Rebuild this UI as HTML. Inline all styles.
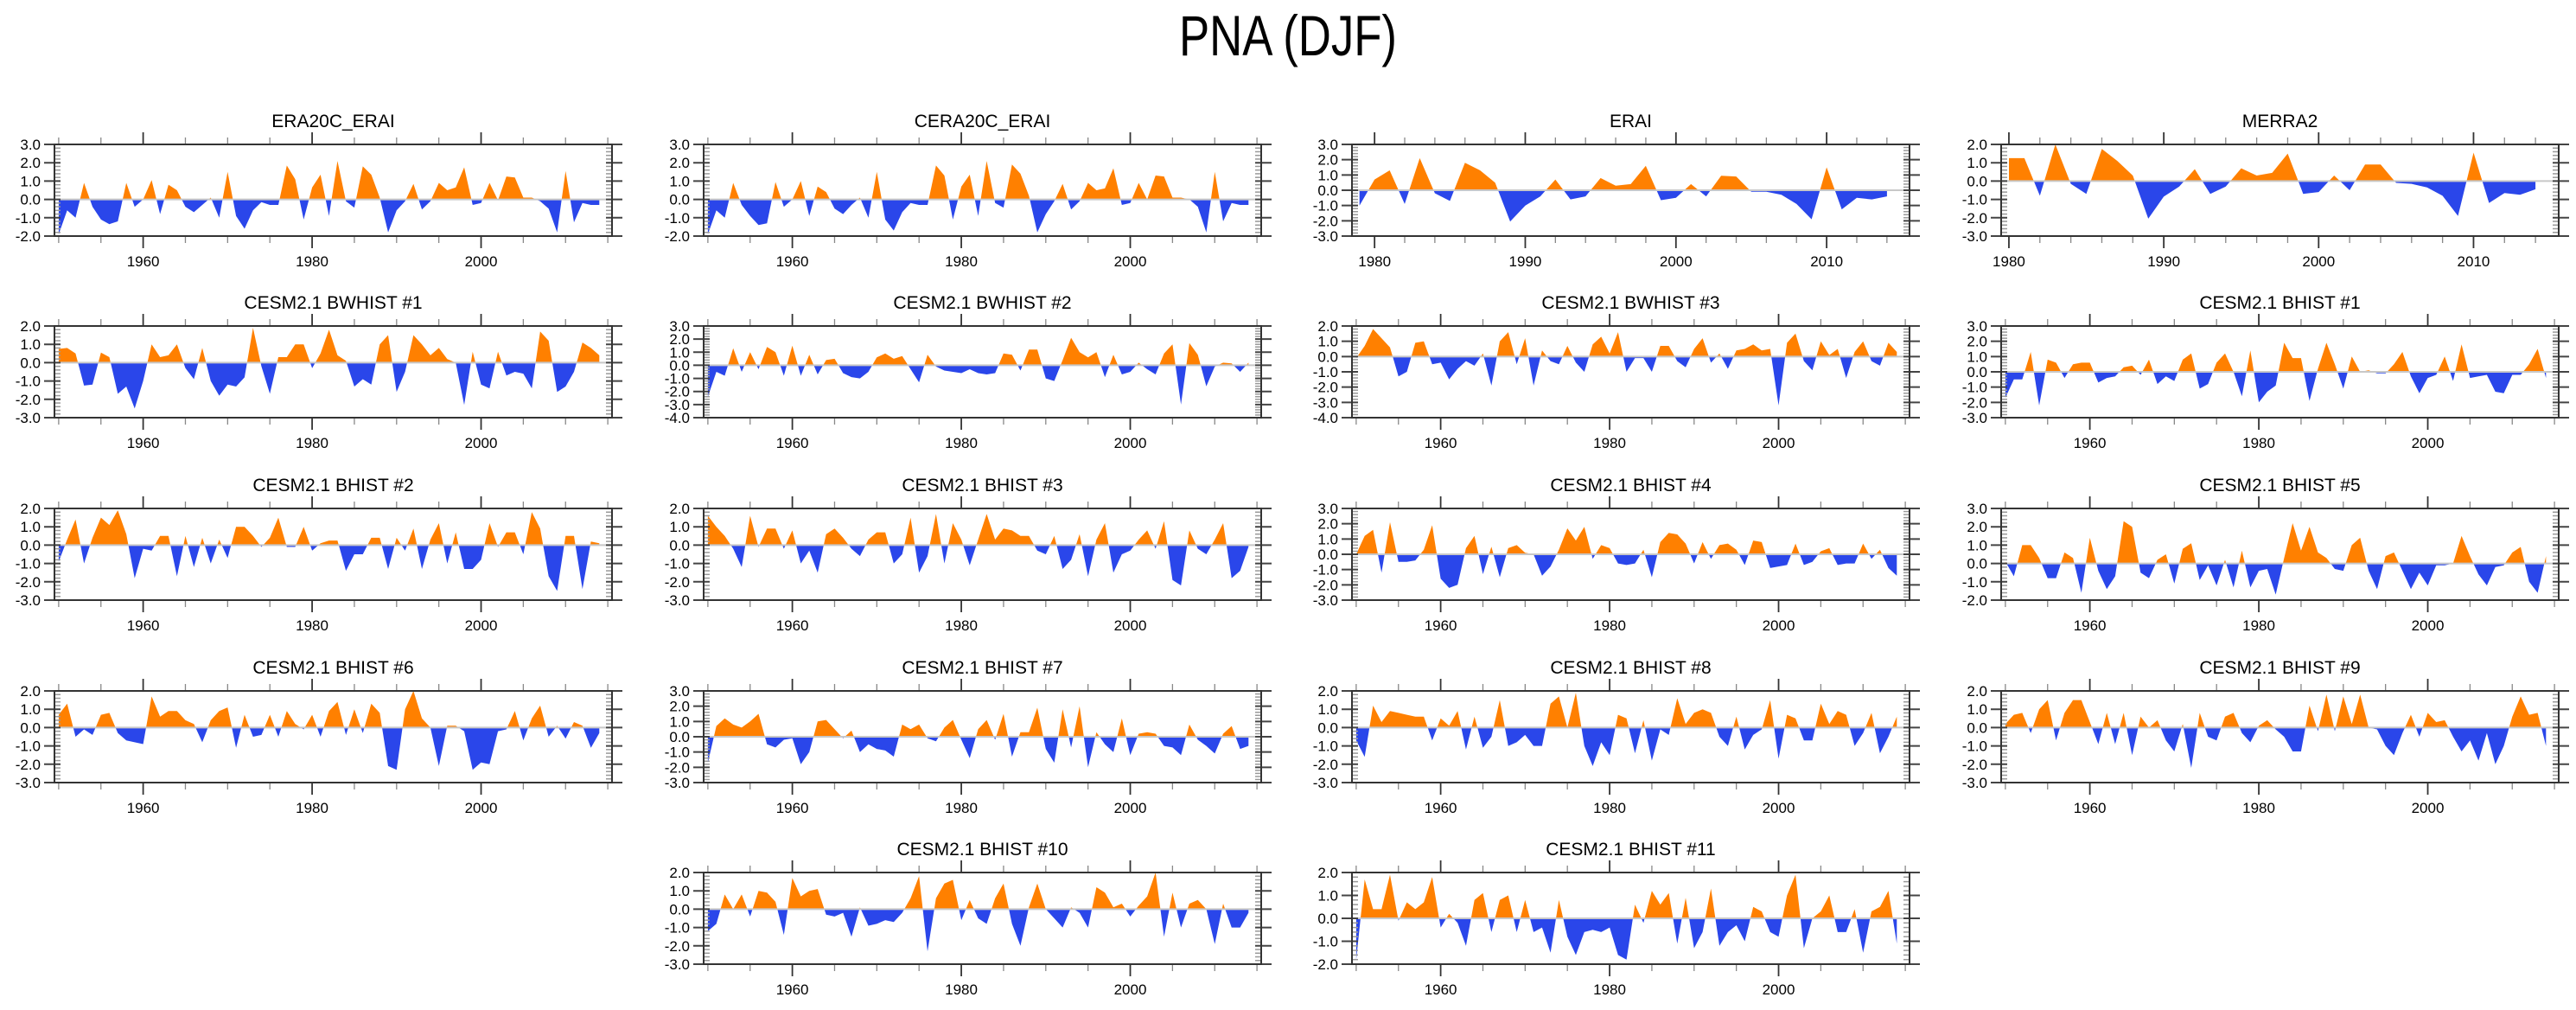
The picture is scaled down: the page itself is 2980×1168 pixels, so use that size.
<!DOCTYPE html>
<html><head><meta charset="utf-8"><style>
html,body{margin:0;padding:0;background:#fff;}
svg text{font-family:"Liberation Sans",Arial,sans-serif;fill:#000;}
</style></head><body>
<svg id="chart" width="2980" height="1163" viewBox="0 0 2980 1163" xmlns="http://www.w3.org/2000/svg">
<rect width="2980" height="1163" fill="#fff"/>
<text x="1490" y="64" font-size="66" text-anchor="middle" textLength="252" lengthAdjust="spacingAndGlyphs">PNA (DJF)</text>
<g id="panels"></g>
</svg>
<script>
const titles = ["ERA20C_ERAI","CERA20C_ERAI","ERAI","MERRA2","CESM2.1 BWHIST #1","CESM2.1 BWHIST #2","CESM2.1 BWHIST #3","CESM2.1 BHIST #1","CESM2.1 BHIST #2","CESM2.1 BHIST #3","CESM2.1 BHIST #4","CESM2.1 BHIST #5","CESM2.1 BHIST #6","CESM2.1 BHIST #7","CESM2.1 BHIST #8","CESM2.1 BHIST #9","CESM2.1 BHIST #10","CESM2.1 BHIST #11"];
const startYears = [1950,1950,1979,1980,1950,1950,1950,1950,1950,1950,1950,1950,1950,1950,1950,1950,1950,1950];
const yMins = [-2,-2,-3,-3,-3,-4,-4,-3,-3,-3,-3,-2,-3,-3,-3,-3,-3,-2];
const yMaxs = [3,3,3,2,2,3,2,3,2,2,3,3,2,3,2,2,2,2];
const xLabelsLong = [1960,1980,2000];
const xLabelsShort = [1980,1990,2000,2010];
const sERA20C = [-1.9,-0.6,-1.0,0.9,-0.4,-1.1,-1.35,-1.2,0.9,-0.4,0.0,1.05,-0.8,0.8,0.5,-0.4,-0.7,-0.3,0.1,-1.0,1.5,-0.9,-1.6,-0.6,-0.15,-0.3,-0.3,1.85,1.1,-1.1,0.65,1.35,-0.9,2.1,-0.1,-0.45,1.8,1.35,0.1,-1.8,-0.6,-0.1,0.85,-0.55,-0.1,0.9,0.5,0.65,1.75,-0.3,-0.2,0.9,-0.05,1.25,1.2,0.1,0.1,-0.1,-0.5,-1.8,1.55,-1.25,-0.2,-0.3,-0.3];
const sCERA20C = [-1.9,-0.6,-1.0,0.9,-0.3,-0.9,-1.4,-1.3,0.95,-0.4,0.0,1.0,-0.9,0.7,0.4,-0.5,-0.8,-0.3,0.1,-1.0,1.5,-1.1,-1.7,-0.7,-0.2,-0.3,-0.3,1.85,1.3,-1.1,0.7,1.35,-0.9,2.1,-0.2,-0.45,1.9,1.4,0.2,-1.8,-0.8,-0.1,0.85,-0.55,-0.1,0.9,0.5,0.6,1.7,-0.3,-0.2,0.9,0.0,1.3,1.25,0.1,0.1,0.0,-0.4,-1.8,1.5,-1.2,-0.2,-0.3,-0.3];
const sERAI = [-1.0,0.7,1.3,-0.9,2.1,-0.2,-0.7,1.8,1.3,0.5,-2.05,-1.0,-0.4,0.7,-0.6,-0.4,0.8,0.3,0.4,1.6,-0.65,-0.5,0.4,-0.4,0.95,0.9,-0.1,-0.1,-0.3,-0.9,-1.9,1.5,-1.25,-0.5,-0.6,-0.4];
const sMERRA2 = [1.25,1.25,-0.8,2.0,-0.15,-0.7,1.75,1.1,0.3,-2.05,-0.85,-0.3,0.65,-0.7,-0.3,0.7,0.3,0.45,1.5,-0.7,-0.6,0.3,-0.5,0.9,0.9,-0.1,-0.15,-0.35,-0.8,-1.9,1.55,-1.2,-0.65,-0.75,-0.45];
const sBW1 = [0.75,0.8,0.5,-1.25,-1.2,0.55,0.3,-1.7,-1.3,-2.5,-1.0,1.0,0.3,0.4,1.0,-0.3,-0.9,0.8,-1.0,-1.8,-1.2,-1.3,-0.8,1.9,-0.2,-1.7,0.3,0.3,1.0,1.0,-0.3,0.5,1.8,0.4,0.1,-1.3,-0.9,-1.2,1.0,1.5,-1.6,-0.5,1.5,1.0,0.4,0.8,0.2,0.0,-2.3,0.6,-1.2,-1.4,0.6,-0.7,-0.5,-0.6,-1.4,1.7,1.2,-1.6,-1.3,-0.5,1.1,0.8,0.4];
const sBW2 = [-2.4,-0.5,-0.8,1.3,-0.5,1.0,-0.3,1.4,1.0,-0.8,1.5,-0.8,0.8,-0.7,0.4,0.5,-0.6,-0.9,-1.0,-0.5,0.6,0.9,0.5,0.7,-0.3,-1.3,0.8,-0.1,-0.4,-0.5,-0.6,-0.3,-0.6,-0.7,-0.6,0.9,0.8,-0.4,1.2,1.2,-1.0,-1.2,0.4,2.1,1.0,0.6,1.0,-0.9,0.8,-0.7,-0.5,0.2,-0.3,-0.7,0.9,1.6,-3.0,1.7,0.8,-1.6,-0.1,0.2,0.15,-0.5,0.2];
const sBW3 = [-0.1,0.7,1.8,1.2,0.6,-1.3,-1.0,0.9,1.0,-0.5,-0.4,-1.5,-0.8,-0.3,-0.6,0.2,-1.9,1.0,1.6,-0.5,1.2,-1.9,0.4,-0.3,-0.5,0.7,-0.4,-1.0,0.8,1.3,0.2,1.6,-1.0,-0.1,-0.1,-1.0,0.7,0.7,-0.3,-0.7,0.5,1.2,-0.4,0.2,-0.8,0.4,0.5,0.8,0.4,0.5,-3.2,0.9,1.5,-0.3,-0.9,1.0,0.1,0.5,-1.4,0.3,1.0,-0.3,-0.6,0.9,0.3];
const sBH1 = [-1.7,-0.5,-0.5,1.3,-2.2,0.8,0.6,-0.4,0.5,0.6,0.6,-0.7,-0.4,-0.3,0.3,0.4,-0.2,0.8,-0.8,-0.3,-0.6,0.8,1.2,-1.1,-0.8,0.6,1.2,0.0,-1.6,1.4,-2.0,-1.3,-0.9,1.9,0.9,0.9,-1.9,0.2,1.9,0.5,-1.1,1.0,0.0,0.1,-0.1,-0.1,0.5,1.3,-0.3,-1.4,-0.4,-0.2,1.0,-0.6,1.8,-0.4,-0.3,-0.2,-1.3,-1.4,-0.2,-0.2,0.5,1.5,-0.4];
const sBH2 = [-0.9,0.3,1.4,-1.0,0.4,1.5,1.1,1.9,0.6,-1.8,-0.2,-0.3,0.5,0.5,-1.7,0.5,-1.2,0.4,-1.0,0.3,-0.7,1.0,1.0,0.5,-0.1,0.4,1.5,-0.1,-0.1,1.0,-0.3,0.1,0.25,0.25,-1.4,-0.5,-0.5,0.4,0.4,-1.3,0.4,-0.3,0.9,-1.3,0.3,1.2,-1.0,0.7,-1.3,-1.3,-0.8,1.2,-0.1,0.7,0.7,-0.5,1.8,0.9,-1.7,-2.5,0.5,0.5,-2.4,0.2,0.1];
const sBH3 = [1.6,1.0,0.5,-0.2,-1.2,1.6,-0.1,0.9,0.9,-0.2,0.8,-1.0,-0.3,-1.5,0.6,0.9,0.4,-0.2,-0.6,0.3,0.7,0.7,-1.0,-0.5,1.5,-1.5,-0.6,1.7,-1.0,1.2,0.3,-1.1,0.3,1.7,0.3,0.9,0.8,0.5,0.5,-0.3,-0.5,0.5,-1.3,-0.8,0.6,-1.7,0.3,1.2,-1.5,-0.5,-0.3,0.3,0.8,-0.2,1.3,-1.9,-2.2,0.8,-0.2,-0.5,0.3,1.2,-1.8,-1.4,-0.1];
const sBH4 = [0.0,1.2,1.6,-1.2,2.1,-0.5,-0.5,-0.4,0.3,1.9,-1.6,-2.2,-2.0,0.4,1.2,-1.3,0.5,-1.5,0.4,0.6,0.1,0.0,-1.4,-0.8,0.3,1.7,0.9,1.8,-0.3,0.6,0.4,-0.6,-0.7,-0.6,0.3,-1.5,0.8,1.4,1.3,0.7,-0.6,0.8,-0.3,0.6,0.7,0.3,-0.7,0.9,0.8,-0.9,-0.8,-0.7,0.7,-0.7,-0.5,0.2,0.4,-0.7,-0.6,-0.6,0.7,-0.3,0.3,-0.9,-1.4];
const sBH5 = [0.1,-0.7,1.0,1.0,0.3,-0.8,-0.8,0.6,0.3,-1.6,1.4,-0.4,-1.4,-0.7,2.3,2.0,-0.5,-0.8,0.2,0.5,-1.1,0.8,1.1,-0.9,-0.1,-1.2,0.2,-1.3,0.7,-1.3,-0.4,-0.3,-1.7,0.3,2.2,0.7,2.0,0.6,0.3,-0.3,-0.4,1.0,1.4,-0.4,-1.4,0.4,0.6,-0.4,-1.4,-0.5,-1.2,-0.1,-0.1,0.0,1.5,0.4,-0.6,-1.2,-0.2,-0.1,0.6,0.9,-1.0,-1.6,0.4];
const sBH6 = [0.7,1.3,-0.5,-0.1,-0.4,0.7,0.8,-0.3,-0.7,-0.8,-0.9,1.7,0.6,0.9,0.9,0.4,0.2,-0.8,0.4,0.9,1.1,-1.1,0.7,-0.5,-0.4,0.7,-0.5,0.9,0.2,-0.1,0.7,-0.5,0.9,1.4,-0.4,1.0,-0.3,1.3,0.8,-2.1,-2.3,1.0,2.0,0.5,0.0,-2.1,0.1,0.1,-0.2,-2.3,-1.9,-2.0,-0.2,-0.1,0.9,-0.7,0.5,1.2,-0.5,0.1,-0.6,0.3,0.1,-1.1,-0.3];
const sBH7 = [-1.7,0.7,1.2,0.8,0.6,1.0,1.5,-0.5,-0.7,-0.2,-0.1,-1.8,-1.0,1.0,1.1,0.5,-0.1,0.4,-1.0,-0.5,-0.8,-0.9,-1.3,0.8,0.5,0.8,-0.1,-0.3,0.6,1.1,-0.2,-1.4,0.5,1.1,-0.2,1.5,-1.3,0.3,0.3,1.9,-0.8,-1.7,1.8,-0.7,2.0,-2.0,0.3,-0.5,-1.0,1.2,-1.2,0.2,0.3,0.2,-0.6,-0.7,-1.2,0.8,-0.2,-0.6,-1.1,0.2,0.7,-0.8,-0.6];
const sBH8 = [-0.7,-1.6,1.2,0.3,0.9,0.8,0.7,0.6,0.6,-0.7,0.5,0.1,0.9,-1.2,0.6,-1.1,-0.5,1.5,-1.0,-0.8,-0.4,-1.0,-1.0,1.3,1.7,0.0,1.9,-1.0,-2.1,-0.8,-1.5,0.7,0.5,-1.4,0.4,-1.8,-0.1,-0.4,1.6,0.2,0.8,1.0,0.8,-0.5,-1.0,0.6,-1.2,-0.4,-0.1,1.5,-1.7,0.7,0.5,-0.7,-0.7,1.3,0.2,0.9,0.7,-1.0,-0.3,0.8,-1.4,-0.5,0.6];
const sBH9 = [0.2,0.7,0.8,-0.3,1.0,1.5,-0.7,0.8,1.5,1.5,0.3,-0.9,0.8,-0.9,0.8,-1.5,0.6,0.0,0.4,-0.7,-1.3,0.2,-2.2,0.8,-0.5,-0.7,0.6,0.8,-0.3,-0.8,0.1,0.4,-0.1,-0.5,-1.3,-1.3,1.2,-0.2,1.8,-0.2,1.7,0.2,1.8,0.0,-0.1,-1.0,-1.5,-0.3,0.7,-0.5,0.8,0.3,0.4,-0.5,-1.3,-0.7,-1.8,-0.3,-2.0,-1.0,0.6,1.7,0.7,0.8,-1.0];
const sBH10 = [-1.2,-0.8,0.8,0.0,0.8,-0.4,1.0,0.9,0.4,-1.4,1.7,0.7,1.0,1.1,-0.3,-0.4,-0.2,-1.5,0.1,-0.9,-0.8,-0.6,-0.7,-0.2,0.6,1.8,-2.3,0.6,1.4,1.6,-0.6,0.5,-0.5,-0.8,0.6,1.4,-0.8,-2.0,0.1,1.4,0.0,-0.5,-1.0,0.1,-0.2,-1.0,1.2,0.9,0.1,0.3,-0.4,0.2,0.7,2.0,-1.5,0.9,-1.0,0.3,0.5,0.0,-1.9,0.3,-1.0,-1.0,-0.2];
const sBH11 = [-1.8,1.7,0.4,0.4,1.9,-0.1,0.7,0.4,0.7,1.8,-0.4,0.2,-0.2,-1.2,0.8,1.1,-0.6,0.8,1.0,-0.6,0.8,-0.6,-0.4,-1.5,0.8,-0.8,-1.6,-0.6,-0.5,-0.6,-0.4,-1.6,-1.8,0.6,-0.2,1.2,0.6,1.1,-1.1,0.9,-1.3,-0.6,1.3,-1.2,-0.6,-0.3,-1.0,0.5,0.3,-0.6,-0.8,1.0,1.9,-1.3,0.0,0.3,1.0,-0.6,-0.6,0.4,-1.5,0.3,0.5,1.2,-1.1];
const seriesList = [sERA20C,sCERA20C,sERAI,sMERRA2,sBW1,sBW2,sBW3,sBH1,sBH2,sBH3,sBH4,sBH5,sBH6,sBH7,sBH8,sBH9,sBH10,sBH11];

const NS = "http://www.w3.org/2000/svg";
const colX = [63, 814, 1564, 2315];
const rowY = [167, 377, 588, 799, 1009];
const PW = 645, PH = 106;
const slots = [[0,0],[1,0],[2,0],[3,0],[0,1],[1,1],[2,1],[3,1],[0,2],[1,2],[2,2],[3,2],[0,3],[1,3],[2,3],[3,3],[1,4],[2,4]];
const root = document.getElementById('panels');
function mk(tag, attrs, parent){const e=document.createElementNS(NS,tag);for(const k in attrs)e.setAttribute(k,attrs[k]);(parent||root).appendChild(e);return e;}

for (let p=0;p<titles.length;p++){
  const [c,r]=slots[p];
  const X0=colX[c], Y0=rowY[r];
  const data=seriesList[p], sy=startYears[p];
  const isShort = sy>=1979;
  const xmin = isShort ? (sy===1979?1978.5:1979.5) : 1949.5;
  const xmax = 2015.5;
  const ymin=yMins[p], ymax=yMaxs[p];
  const xs = v => X0 + (v-xmin)/(xmax-xmin)*PW;
  const ys = v => Y0 + (ymax-v)/(ymax-ymin)*PH;
  const g = mk('g',{});
  
  
  const t = mk('text',{x:X0+PW/2,y:Y0-20,'font-size':21,'text-anchor':'middle'},g);
  t.textContent=titles[p];
  
  
  const cid='clip'+p;
  const defs=mk('defs',{},g);
  const ca=mk('clipPath',{id:cid+'a'},defs); mk('rect',{x:X0,y:Y0,width:PW,height:ys(0)-Y0},ca);
  const cb=mk('clipPath',{id:cid+'b'},defs); mk('rect',{x:X0,y:ys(0),width:PW,height:Y0+PH-ys(0)},cb);
  let d='M'+xs(sy).toFixed(1)+','+ys(0).toFixed(1);
  data.forEach((v,i)=>{d+=' L'+xs(sy+i).toFixed(1)+','+ys(v).toFixed(1);});
  d+=' L'+xs(sy+data.length-1).toFixed(1)+','+ys(0).toFixed(1)+' Z';
  const pa=mk('path',{d:d,fill:'#ff8000','clip-path':'url(#'+cid+'a)'},g);
  
  
  const pb=mk('path',{d:d,fill:'#2a46ea','clip-path':'url(#'+cid+'b)'},g);
  
  
  const zl=mk('line',{x1:X0,x2:X0+PW,y1:ys(0),y2:ys(0),stroke:'#c8c8c8','stroke-width':2},g);
  
  
  for (let k=Math.round(ymin*5);k<=Math.round(ymax*5);k++){
    const v=k/5, y=ys(v);
    if (k%5===0){
      mk('line',{x1:X0-12,x2:X0+7,y1:y,y2:y,stroke:'#444','stroke-width':2},g);
      mk('line',{x1:X0+PW-7,x2:X0+PW+12,y1:y,y2:y,stroke:'#444','stroke-width':2},g);
      const lb=mk('text',{x:X0-16,y:y+6,'font-size':17,'text-anchor':'end'},g);
      lb.textContent=v.toFixed(1);
      
      
    } else {
      mk('line',{x1:X0,x2:X0+7,y1:y,y2:y,stroke:'#999','stroke-width':1.5},g);
      mk('line',{x1:X0+PW-7,x2:X0+PW,y1:y,y2:y,stroke:'#999','stroke-width':1.5},g);
    }
  }
  const step = isShort?2:5, big = isShort?10:20;
  const first = isShort?1980:1950;
  const labs = isShort?xLabelsShort:xLabelsLong;
  for (let yr=first; yr<=2015; yr+=step){
    const x=xs(yr), maj=(yr%big===0);
    const L=maj?14:8;
    mk('line',{x1:x,x2:x,y1:Y0-L,y2:Y0,stroke:maj?'#333':'#888','stroke-width':maj?1.8:1.3},g);
    mk('line',{x1:x,x2:x,y1:Y0+PH,y2:Y0+PH+L,stroke:maj?'#333':'#888','stroke-width':maj?1.8:1.3},g);
  }
  labs.forEach(yr=>{
    const lb=mk('text',{x:xs(yr),y:Y0+PH+35,'font-size':17,'text-anchor':'middle'},g);
    lb.textContent=yr;
    
    
  });
  const fr=mk('rect',{x:X0,y:Y0,width:PW,height:PH,fill:'none',stroke:'#333','stroke-width':2},g);
  
  
}
</script>
</body></html>
